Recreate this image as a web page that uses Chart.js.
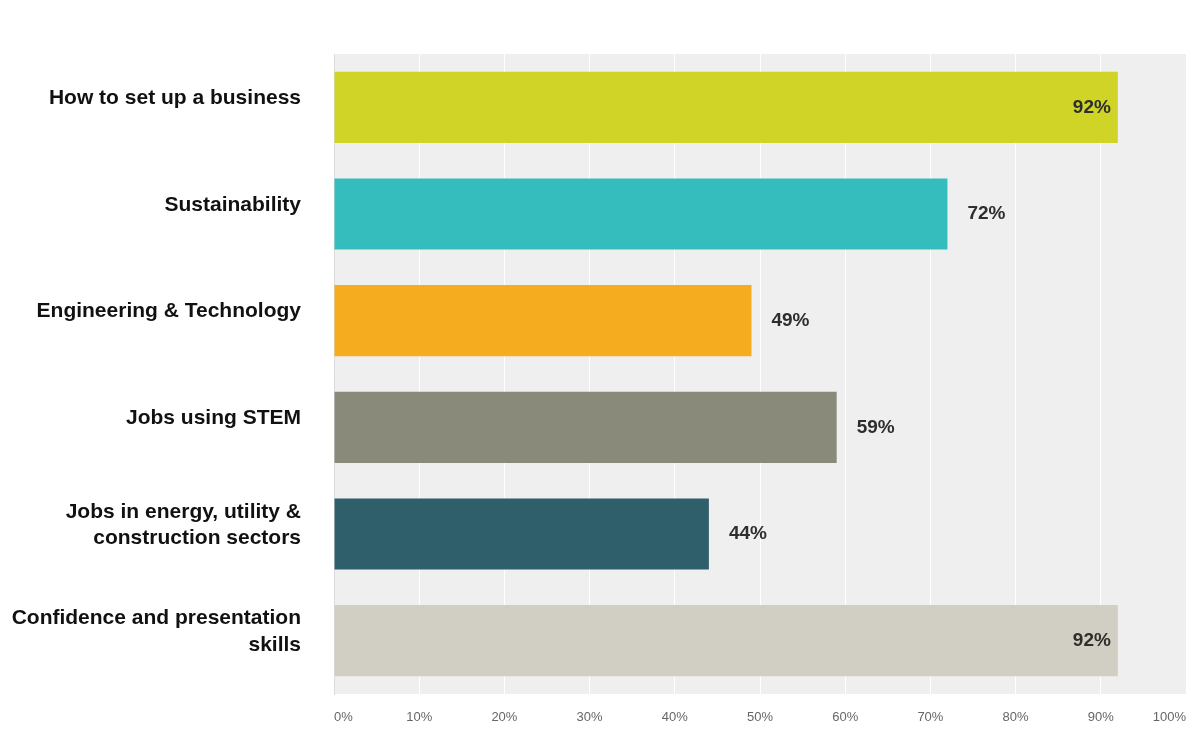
<!DOCTYPE html>
<html>
<head>
<meta charset="utf-8">
<script src="https://cdn.jsdelivr.net/npm/chart.js@4/dist/chart.umd.min.js"></script>
<style>
  html, body { margin: 0; padding: 0; background: #ffffff; }
  #wrap { width: 1186px; height: 737px; }
</style>
</head>
<body>
<div id="wrap"><canvas id="surveyChart" width="1186" height="737"></canvas></div>
<script>
// Survey answers (share of respondents)
const categories = [
    "How to set up a business",
    "Sustainability",
    "Engineering & Technology",
    "Jobs using STEM",
    ["Jobs in energy, utility &", "construction sectors"],
    ["Confidence and presentation", "skills"]
];
const values = [92, 72, 49, 59, 44, 92];
const barColors = ["#cfd427", "#35bdbe", "#f5ac1e", "#8a8a7a", "#2f5f6b", "#d1cfc3"];
const tickValues = [0, 10, 20, 30, 40, 50, 60, 70, 80, 90, 100];

const fontFamily = "'Liberation Sans', Arial, Helvetica, sans-serif";

// Grey plot background behind the bars
const plotBackground = {
    id: "plotBackground",
    beforeDraw(chart) {
        const { ctx, chartArea } = chart;
        ctx.save();
        ctx.fillStyle = "#efefef";
        ctx.fillRect(chartArea.left, chartArea.top, chartArea.right - chartArea.left, chartArea.bottom - chartArea.top);
        ctx.restore();
    }
};

// Percent labels: inside the bar for long bars, after the bar otherwise
const valueLabels = {
    id: "valueLabels",
    afterDatasetsDraw(chart) {
        const { ctx } = chart;
        const meta = chart.getDatasetMeta(0);
        ctx.save();
        ctx.font = "bold 19px " + fontFamily;
        ctx.fillStyle = "#2e2e2e";
        ctx.textBaseline = "middle";
        meta.data.forEach((bar, i) => {
            const v = values[i];
            if (v >= 90) {
                ctx.textAlign = "right";
                ctx.fillText(v + "%", bar.x - 7, bar.y);
            } else {
                ctx.textAlign = "left";
                ctx.fillText(v + "%", bar.x + 20, bar.y);
            }
        });
        ctx.restore();
    }
};

new Chart(document.getElementById("surveyChart").getContext("2d"), {
    type: "bar",
    data: {
        labels: categories,
        datasets: [
            {
                data: values,
                backgroundColor: barColors,
                borderWidth: 0,
                barPercentage: 0.667,
                categoryPercentage: 1.0
            }
        ]
    },
    options: {
        indexAxis: "y",
        responsive: false,
        animation: false,
        layout: {
            padding: { top: 54, right: 0, bottom: 0, left: 0 }
        },
        plugins: {
            legend: { display: false },
            tooltip: { enabled: false }
        },
        scales: {
            x: {
                min: 0,
                max: 100,
                afterBuildTicks(axis) {
                    axis.ticks = tickValues.map((v) => ({ value: v }));
                },
                afterFit(axis) {
                    axis.height = 43;
                    axis.paddingLeft = 0;
                    axis.paddingRight = 0;
                },
                grid: {
                    color: "#ffffff",
                    lineWidth: 1,
                    drawTicks: false
                },
                border: { display: false },
                ticks: {
                    align: "inner",
                    padding: 16,
                    color: "#666666",
                    font: { family: fontFamily, size: 13 },
                    maxRotation: 0,
                    callback: (v) => v + "%"
                }
            },
            y: {
                afterFit(axis) {
                    axis.width = 334;
                    axis.paddingTop = 0;
                    axis.paddingBottom = 0;
                },
                grid: { display: false, drawTicks: false },
                border: { display: true, color: "#dcdcdc" },
                ticks: {
                    padding: 33,
                    labelOffset: -9,
                    color: "#111111",
                    font: { family: fontFamily, size: 21, weight: "bold", lineHeight: 1.25 }
                }
            }
        }
    },
    plugins: [plotBackground, valueLabels]
});
</script>
</body>
</html>
